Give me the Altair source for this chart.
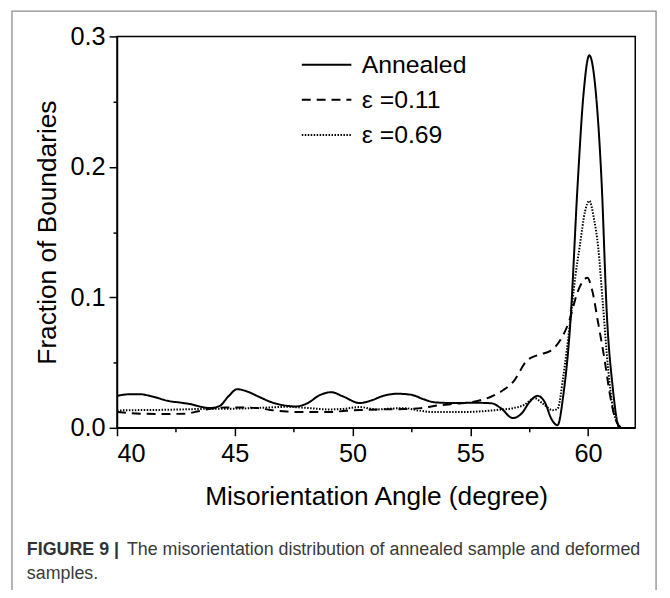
import altair as alt
import pandas as pd

# ---------------- data ----------------
series_names = ["Annealed", "ε =0.11", "ε =0.69"]

annealed_x = [40.0, 40.5, 40.95, 41.5, 42.2, 42.7, 43.1, 43.6, 43.95, 44.35, 44.75, 45.1, 45.5,
              46.0, 46.5, 47.0, 47.6, 48.1, 48.6, 49.1, 49.6, 50.3, 50.8, 51.3, 51.9, 52.5,
              53.0, 53.5, 54.3, 55.2, 55.9, 56.3, 56.8, 57.2, 57.5, 57.85, 58.15, 58.45, 58.7,
              58.95, 59.25, 59.55, 59.8, 60.05, 60.3, 60.57, 60.8, 61.05, 61.2, 61.3]
annealed_y = [0.0245, 0.0257, 0.0258, 0.0240, 0.0205, 0.0193, 0.0182, 0.0160, 0.0151, 0.0167,
              0.0245, 0.0296, 0.0280, 0.0240, 0.0200, 0.0175, 0.0164, 0.0190, 0.0250, 0.0273,
              0.0240, 0.0190, 0.0210, 0.0245, 0.0261, 0.0253, 0.0220, 0.0195, 0.0190, 0.0192,
              0.0188, 0.0150, 0.0075, 0.0115, 0.0195, 0.0245, 0.0200, 0.0065, 0.0020, 0.0255,
              0.0820, 0.1850, 0.2550, 0.2855, 0.2620, 0.1890, 0.0850, 0.0300, 0.0080, 0.0]

e011_x = [40.0, 40.8, 41.8, 42.9, 43.4, 43.9, 44.6, 45.3, 46.0, 46.5, 47.2, 47.9, 49.0, 49.7,
          50.3, 51.2, 52.0, 52.9, 53.6, 54.4, 55.2, 55.9, 56.4, 56.8, 57.4, 57.9, 58.4, 58.8,
          59.2, 59.55, 59.8, 59.97, 60.15, 60.43, 60.7, 60.92, 61.15, 61.4]
e011_y = [0.0121, 0.0110, 0.0106, 0.0108, 0.0125, 0.0144, 0.0156, 0.0156, 0.0151, 0.0137,
          0.0125, 0.0121, 0.0121, 0.0130, 0.0136, 0.0141, 0.0143, 0.0151, 0.0171, 0.0185,
          0.0202, 0.0240, 0.0290, 0.0348, 0.0515, 0.0560, 0.0590, 0.0667, 0.0820, 0.1040,
          0.1130, 0.1150, 0.1070, 0.0800, 0.0520, 0.0260, 0.0070, 0.0]

e069_x = [40.0, 41.0, 42.0, 43.0, 43.9, 45.0, 45.8, 46.6, 47.2, 48.0, 49.0, 49.6, 50.3, 51.0,
          51.6, 52.2, 52.8, 53.4, 54.7, 55.5, 56.2, 56.8, 57.3, 57.72, 58.1, 58.5, 58.7,
          58.95, 59.23, 59.45, 59.65, 59.87, 60.05, 60.25, 60.43, 60.62, 60.85, 61.05, 61.25, 61.35]
e069_y = [0.0133, 0.0136, 0.0138, 0.0142, 0.0146, 0.0147, 0.0151, 0.0157, 0.0161, 0.0153,
          0.0141, 0.0145, 0.0159, 0.0141, 0.0147, 0.0151, 0.0133, 0.0121, 0.0121, 0.0127,
          0.0138, 0.0150, 0.0177, 0.0228, 0.0182, 0.0135, 0.0145, 0.0400, 0.0800, 0.1150,
          0.1400, 0.1660, 0.1740, 0.1600, 0.1380, 0.0960, 0.0450, 0.0150, 0.0030, 0.0]

x_ticks = [40, 42.5, 45, 47.5, 50, 52.5, 55, 57.5, 60]
y_ticks = [0, 0.05, 0.1, 0.15, 0.2, 0.25, 0.3]

x_title = "Misorientation Angle (degree)"
y_title = "Fraction of Boundaries"
caption_bold = ["FIGURE 9 |"]
caption_rest = ["The misorientation distribution of annealed sample and deformed"]
caption_line2 = ["samples."]

# ---------------- table ----------------
rows = []
for name, xs, ys in zip(series_names, [annealed_x, e011_x, e069_x], [annealed_y, e011_y, e069_y]):
    for i, (a, b) in enumerate(zip(xs, ys)):
        rows.append({"series": name, "angle": a, "fraction": b, "order": i})
df = pd.DataFrame(rows)

W, H = 523, 395
FONT = "Liberation Sans"

major_y = "abs(datum.value*10 - round(datum.value*10)) < 0.001"

lines = alt.Chart(df).mark_line(interpolate="monotone", color="black").encode(
    x=alt.X("angle:Q",
            scale=alt.Scale(domain=[40, 62], nice=False, zero=False),
            axis=alt.Axis(values=x_ticks, title=x_title,
                          labelExpr="datum.value % 5 == 0 ? datum.value : ''",
                          tickSize={"condition": {"test": "datum.value % 5 == 0", "value": 8}, "value": 4},
                          labelPadding=6, titleY=69, titleBaseline="middle")),
    y=alt.Y("fraction:Q",
            scale=alt.Scale(domain=[0, 0.3], nice=False),
            axis=alt.Axis(values=y_ticks, title=y_title,
                          labelExpr=major_y + " ? format(datum.value, '.1f') : ''",
                          tickSize={"condition": {"test": major_y, "value": 8}, "value": 4},
                          labelPadding=4, titleX=-70, titleBaseline="middle")),
    strokeDash=alt.StrokeDash("series:N",
                              scale=alt.Scale(domain=series_names, range=[[1, 0], [9, 6], [1.5, 1.5]]),
                              legend=alt.Legend(title=None, orient="none", legendX=199, legendY=16,
                                                symbolType="M-2.5,0H2.5", symbolSize=400,
                                                symbolStrokeWidth=1.8, symbolStrokeColor="black",
                                                symbolFillColor="transparent",
                                                labelFont=FONT, labelFontSize=25, labelColor="black",
                                                labelOffset=23, rowPadding=9.5)),
    strokeWidth=alt.StrokeWidth("series:N",
                                scale=alt.Scale(domain=series_names, range=[2.0, 2.0, 1.6]),
                                legend=None),
    order="order:Q",
)

frame = alt.Chart(pd.DataFrame({"k": [0]})).mark_rect(
    filled=False, stroke="#8c8c8c", strokeWidth=1.3
).encode(x=alt.value(-106), x2=alt.value(544), y=alt.value(-25.5), y2=alt.value(700))

cap1 = alt.Chart(pd.DataFrame({"t": caption_bold})).mark_text(
    align="left", baseline="middle", font=FONT, fontSize=18, fontWeight="bold", color="#333333"
).encode(text="t:N", x=alt.value(-91), y=alt.value(518))

cap2 = alt.Chart(pd.DataFrame({"t": caption_rest})).mark_text(
    align="left", baseline="middle", font=FONT, fontSize=18, color="#3a3a3a"
).encode(text="t:N", x=alt.value(10), y=alt.value(518))

cap3 = alt.Chart(pd.DataFrame({"t": caption_line2})).mark_text(
    align="left", baseline="middle", font=FONT, fontSize=18, color="#3a3a3a"
).encode(text="t:N", x=alt.value(-91), y=alt.value(543))

chart = alt.layer(frame, lines, cap1, cap2, cap3).properties(
    width=W, height=H,
    padding={"left": 110, "top": 26, "right": 27, "bottom": 161},
    autosize=alt.AutoSizeParams(type="none"),
    background="white",
).configure_view(
    stroke="black", strokeWidth=1.5
).configure_axis(
    grid=False, domainColor="black", domainWidth=1.5, tickColor="black", tickWidth=1.5,
    labelFont=FONT, labelFontSize=25.5, labelColor="black",
    titleFont=FONT, titleFontSize=26.5, titleFontWeight="normal", titleColor="black",
)

chart.save("out.html", embed_options={"renderer": "svg", "actions": False})
